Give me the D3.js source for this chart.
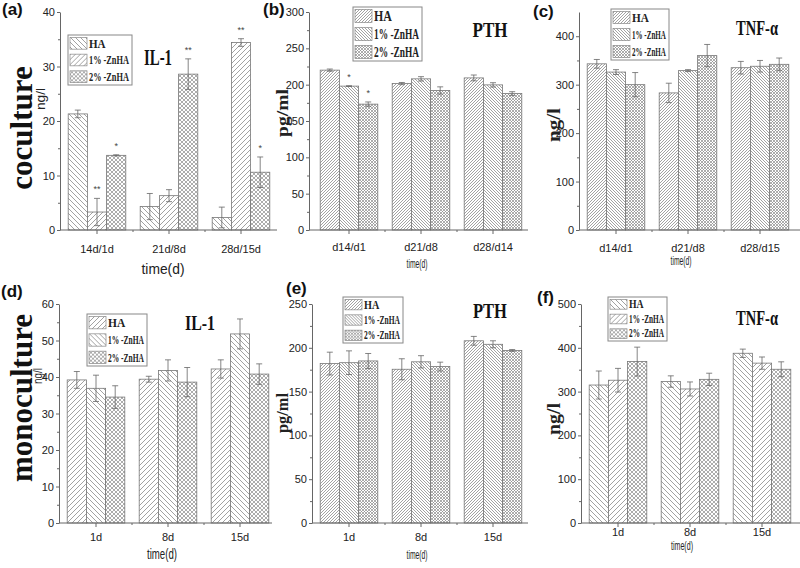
<!DOCTYPE html>
<html>
<head>
<meta charset="utf-8">
<script src="https://cdn.jsdelivr.net/npm/d3@7"></script>
<style>
  body { margin: 0; background: #fff; }
  .tick text { fill: #222; font-family: "Liberation Sans", Arial, sans-serif; font-size: 11px; }
  .tick line, .domain { stroke: #666; stroke-width: 1; }
</style>
</head>
<body>
<div id="chart"></div>
<script>
var seriesNames = ["HA", "1% -ZnHA", "2% -ZnHA"];
var coIlDays = ["14d/1d", "21d/8d", "28d/15d"];
var coPthDays = ["d14/d1", "d21/d8", "d28/d14"];
var coTnfDays = ["d14/d1", "d21/d8", "d28/d15"];
var monoDays = ["1d", "8d", "15d"];

// rows: HA, 1% -ZnHA, 2% -ZnHA ; columns: time points
var coIlMean = [[21.3, 4.3, 2.3], [3.3, 6.3, 34.4], [13.7, 28.6, 10.6]];
var coIlErr = [[0.7, 2.4, 1.9], [2.5, 1.1, 0.7], [0.1, 2.8, 2.8]];
var coIlStars = [["", "", ""], ["**", "", "**"], ["*", "**", "*"]];

var coPthMean = [[220, 201.5, 209.3], [198, 208, 199.7], [173.2, 192, 187.8]];
var coPthErr = [[1.5, 1.5, 4], [0.5, 3, 3], [3, 5, 2.5]];
var coPthStars = [["", "", ""], ["*", "", ""], ["*", "", ""]];

var coTnfMean = [[343, 283, 335], [326, 329, 338], [300, 360, 342]];
var coTnfErr = [[9, 20, 13], [5, 2, 12], [25, 23, 13]];

var monoIlMean = [[39.2, 39.4, 42.2], [36.9, 41.8, 51.8], [34.5, 38.6, 40.8]];
var monoIlErr = [[2.3, 0.8, 2.5], [3.6, 2.9, 4.1], [3.1, 4.0, 2.8]];

var monoPthMean = [[182, 175.5, 208], [183, 184, 204], [185, 178.6, 197]];
var monoPthErr = [[13, 12, 5], [13.5, 7, 4], [8.5, 5, 1]];

var monoTnfMean = [[315, 323, 387.5], [326, 306, 365], [368.5, 328, 351]];
var monoTnfErr = [[32, 13, 9.5], [27, 16, 14], [33, 14, 17]];

var ilCoTicks = [0, 10, 20, 30, 40];
var pthCoTicks = [0, 50, 100, 150, 200, 250, 300];
var tnfCoTicks = [0, 100, 200, 300, 400];
var ilMonoTicks = [0, 10, 20, 30, 40, 50, 60];
var pthMonoTicks = [0, 50, 100, 150, 200, 250];
var tnfMonoTicks = [0, 100, 200, 300, 400, 500];

var serif = '"Liberation Serif", "Times New Roman", serif';
var sans = '"Liberation Sans", Arial, sans-serif';

var svg = d3.select('#chart').append('svg')
  .attr('width', 800)
  .attr('height', 568);

var defs = svg.append('defs');

function hatch(id, s, kind) {
  var p = defs.append('pattern')
    .attr('id', id)
    .attr('patternUnits', 'userSpaceOnUse')
    .attr('width', s)
    .attr('height', s);
  p.append('rect').attr('width', s).attr('height', s).attr('fill', '#fff');
  var fw = 'M0,' + s + 'L' + s + ',0M-1,1L1,-1M' + (s - 1) + ',' + (s + 1) + 'L' + (s + 1) + ',' + (s - 1);
  var bk = 'M0,0L' + s + ',' + s + 'M-1,' + (s - 1) + 'L1,' + (s + 1) + 'M' + (s - 1) + ',-1L' + (s + 1) + ',1';
  var d = kind === 'fw' ? fw : kind === 'bk' ? bk : fw + bk;
  p.append('path').attr('d', d)
    .attr('stroke', '#8a8a8a')
    .attr('stroke-width', kind === 'cr' ? 0.7 : 0.8)
    .attr('fill', 'none');
}
hatch('fwC', 5, 'fw');
hatch('bkC', 5, 'bk');
hatch('crC', 4, 'cr');
hatch('fwF', 3, 'fw');
hatch('bkF', 3, 'bk');
hatch('crF', 3, 'cr');

// squeeze a text horizontally to a target width (keeps real text, true bbox)
function squeeze(t, x, y, w, rot) {
  var k = w / t.node().getComputedTextLength();
  t.attr('transform', 'translate(' + x + ',' + y + ')' + (rot ? ' rotate(-90)' : '') + ' scale(' + k + ',1)');
}

function drawPanel(p) {
  var g = svg.append('g');

  var x = d3.scaleBand().domain(p.days)
    .range([p.bx, p.bx + 216])
    .paddingInner(0.2).paddingOuter(0.1);
  var xs = d3.scaleBand().domain(d3.range(seriesNames.length))
    .range([0, x.bandwidth()]);
  var y = d3.scaleLinear().domain([0, p.yMax]).range([p.y0, p.yTop]);

  var rows = [];
  p.mean.forEach(function (r, si) {
    r.forEach(function (v, di) {
      rows.push({
        si: si, day: p.days[di], v: v, e: p.err[si][di],
        star: p.stars ? p.stars[si][di] : ''
      });
    });
  });

  g.selectAll('rect.bar').data(rows).enter().append('rect')
    .attr('class', 'bar')
    .attr('x', function (d) { return x(d.day) + xs(d.si); })
    .attr('y', function (d) { return y(d.v); })
    .attr('width', xs.bandwidth())
    .attr('height', function (d) { return y(0) - y(d.v); })
    .attr('fill', function (d) { return 'url(#' + p.pats[d.si] + ')'; })
    .attr('stroke', '#777')
    .attr('stroke-width', 0.8);

  var cx = function (d) { return x(d.day) + xs(d.si) + xs.bandwidth() / 2; };
  var eb = g.selectAll('g.err').data(rows).enter().append('g')
    .attr('class', 'err')
    .attr('stroke', '#666')
    .attr('stroke-width', 0.8);
  eb.append('line')
    .attr('x1', cx).attr('x2', cx)
    .attr('y1', function (d) { return y(d.v - d.e); })
    .attr('y2', function (d) { return y(d.v + d.e); });
  [1, -1].forEach(function (sg) {
    eb.append('line')
      .attr('x1', function (d) { return cx(d) - 3; })
      .attr('x2', function (d) { return cx(d) + 3; })
      .attr('y1', function (d) { return y(d.v + sg * d.e); })
      .attr('y2', function (d) { return y(d.v + sg * d.e); });
  });

  g.selectAll('text.star').data(rows.filter(function (d) { return d.star; }))
    .enter().append('text')
    .attr('x', cx)
    .attr('y', function (d) { return y(d.v + d.e) - 6; })
    .attr('text-anchor', 'middle')
    .attr('font-family', sans)
    .attr('font-size', 9)
    .attr('fill', '#444')
    .text(function (d) { return d.star; });

  // y axis with minor ticks
  g.append('g')
    .attr('transform', 'translate(' + p.ax + ',0)')
    .call(d3.axisLeft(y).tickValues(p.ticks).tickSize(3).tickSizeOuter(0).tickPadding(2));
  var minor = p.ticks.slice(1).map(function (t, i) { return (t + p.ticks[i]) / 2; });
  g.append('g')
    .attr('transform', 'translate(' + p.ax + ',0)')
    .call(d3.axisLeft(y).tickValues(minor).tickSize(2).tickFormat(''))
    .call(function (a) { a.select('.domain').remove(); });

  // x axis
  g.append('line')
    .attr('x1', p.ax).attr('x2', p.axEnd)
    .attr('y1', p.y0).attr('y2', p.y0)
    .attr('stroke', '#666');
  g.append('g')
    .attr('transform', 'translate(0,' + p.y0 + ')')
    .call(d3.axisBottom(x).tickSize(4).tickPadding(p.tickPad))
    .call(function (a) { a.select('.domain').remove(); });
  var bounds = p.days.slice(1).map(function (d) { return x(d) - x.step() * x.paddingInner() / 2; });
  g.selectAll('line.mx').data(bounds).enter().append('line')
    .attr('x1', function (d) { return d; }).attr('x2', function (d) { return d; })
    .attr('y1', p.y0).attr('y2', p.y0 + 2)
    .attr('stroke', '#666');

  // axis titles
  var xt = g.append('text')
    .attr('text-anchor', 'middle')
    .attr('font-family', sans)
    .attr('font-size', p.xl[3])
    .attr('fill', '#222')
    .text('time(d)');
  squeeze(xt, p.xl[0], p.xl[1], p.xl[2]);
  var yt = g.append('text')
    .attr('text-anchor', 'middle')
    .attr('font-family', p.ylSerif ? serif : sans)
    .attr('font-weight', p.ylSerif ? 'bold' : 'normal')
    .attr('font-size', p.yl[3])
    .attr('fill', '#222')
    .text(p.ylabel);
  squeeze(yt, p.yl[0], p.yl[1], p.yl[2], true);

  // panel letter
  g.append('text')
    .attr('x', p.letter[1]).attr('y', p.letter[2])
    .attr('font-family', sans)
    .attr('font-weight', 'bold')
    .attr('font-size', 17)
    .attr('fill', '#111')
    .text(p.letter[0]);

  // title
  var tt = g.append('text')
    .attr('text-anchor', 'middle')
    .attr('font-family', serif)
    .attr('font-weight', 'bold')
    .attr('font-size', p.title[4])
    .attr('fill', '#111')
    .text(p.title[0]);
  squeeze(tt, p.title[1], p.title[2], p.title[3]);

  // legend
  var L = p.leg, rowH = L[3] / 3;
  var lg = g.append('g').attr('transform', 'translate(' + L[0] + ',' + L[1] + ')');
  lg.append('rect')
    .attr('width', L[2]).attr('height', L[3])
    .attr('fill', '#fff').attr('stroke', '#888');
  var item = lg.selectAll('g.item').data(seriesNames).enter().append('g')
    .attr('transform', function (d, i) { return 'translate(0,' + (i * rowH) + ')'; });
  item.append('rect')
    .attr('x', 2).attr('y', 2.5)
    .attr('width', 17).attr('height', rowH - 5)
    .attr('fill', function (d, i) { return 'url(#' + p.pats[i] + ')'; })
    .attr('stroke', '#888').attr('stroke-width', 0.7);
  item.append('text')
    .attr('font-family', serif)
    .attr('font-weight', 'bold')
    .attr('font-size', rowH * 0.78)
    .attr('fill', '#222')
    .text(function (d) { return d; })
    .each(function (d, i) {
      var t = d3.select(this);
      var w = i > 0 ? L[2] - 24 : t.node().getComputedTextLength() * 0.85;
      squeeze(t, 21, rowH / 2 + rowH * 0.25, w);
    });
}

drawPanel({
  days: coIlDays, mean: coIlMean, err: coIlErr, stars: coIlStars,
  ticks: ilCoTicks, yMax: 40, yTop: 12, y0: 230, ax: 60, bx: 61, axEnd: 277, tickPad: 11,
  pats: ['bkC', 'fwC', 'crC'],
  xl: [163, 274, 43, 15], yl: [45, 99, 22, 13], ylabel: 'ng/l', ylSerif: false,
  letter: ['(a)', 2, 15], title: ['IL-1', 158, 65, 28, 24], leg: [68, 35, 64, 50]
});
drawPanel({
  days: coPthDays, mean: coPthMean, err: coPthErr, stars: coPthStars,
  ticks: pthCoTicks, yMax: 300, yTop: 12, y0: 230, ax: 309, bx: 313, axEnd: 528, tickPad: 9,
  pats: ['fwF', 'bkF', 'crF'],
  xl: [417, 268, 21, 13], yl: [288, 113, 48, 17], ylabel: 'pg/ml', ylSerif: true,
  letter: ['(b)', 263, 15], title: ['PTH', 490, 37, 35, 20], leg: [353, 7, 69, 54]
});
drawPanel({
  days: coTnfDays, mean: coTnfMean, err: coTnfErr, stars: null,
  ticks: tnfCoTicks, yMax: 450, yTop: 12, y0: 230, ax: 579, bx: 580, axEnd: 800, tickPad: 10,
  pats: ['fwF', 'bkF', 'crF'],
  xl: [681, 265, 21, 13], yl: [560, 125, 34, 18], ylabel: 'ng/l', ylSerif: true,
  letter: ['(c)', 533, 17], title: ['TNF-α', 757, 35, 42, 20], leg: [611, 9, 58, 51]
});
drawPanel({
  days: monoDays, mean: monoIlMean, err: monoIlErr, stars: null,
  ticks: ilMonoTicks, yMax: 60, yTop: 304, y0: 523, ax: 59, bx: 60, axEnd: 272, tickPad: 6,
  pats: ['fwC', 'bkC', 'crC'],
  xl: [162, 559, 30, 15], yl: [42, 376, 16, 12], ylabel: 'ng/l', ylSerif: false,
  letter: ['(d)', 1, 297], title: ['IL-1', 200, 330, 30, 22], leg: [87, 314, 60, 52]
});
drawPanel({
  days: monoDays, mean: monoPthMean, err: monoPthErr, stars: null,
  ticks: pthMonoTicks, yMax: 250, yTop: 304, y0: 523, ax: 312, bx: 313, axEnd: 528, tickPad: 6,
  pats: ['fwF', 'bkF', 'crF'],
  xl: [417, 559, 21, 13], yl: [288, 413, 40, 17], ylabel: 'pg/ml', ylSerif: true,
  letter: ['(e)', 286, 294], title: ['PTH', 490, 318, 34, 20], leg: [343, 297, 60, 46]
});
drawPanel({
  days: monoDays, mean: monoTnfMean, err: monoTnfErr, stars: null,
  ticks: tnfMonoTicks, yMax: 500, yTop: 304, y0: 523, ax: 581, bx: 582, axEnd: 800, tickPad: 1,
  pats: ['bkC', 'fwC', 'crC'],
  xl: [682, 550, 22, 13], yl: [560, 419, 32, 18], ylabel: 'ng/l', ylSerif: true,
  letter: ['(f)', 537, 303], title: ['TNF-α', 757, 325, 42, 20], leg: [608, 297, 59, 44]
});

// row labels
[['coculture', 128], ['monoculture', 398]].forEach(function (r) {
  svg.append('text')
    .attr('transform', 'translate(32,' + r[1] + ') rotate(-90)')
    .attr('text-anchor', 'middle')
    .attr('font-family', serif)
    .attr('font-weight', 'bold')
    .attr('font-size', 31)
    .attr('fill', '#111')
    .text(r[0]);
});
</script>
</body>
</html>
